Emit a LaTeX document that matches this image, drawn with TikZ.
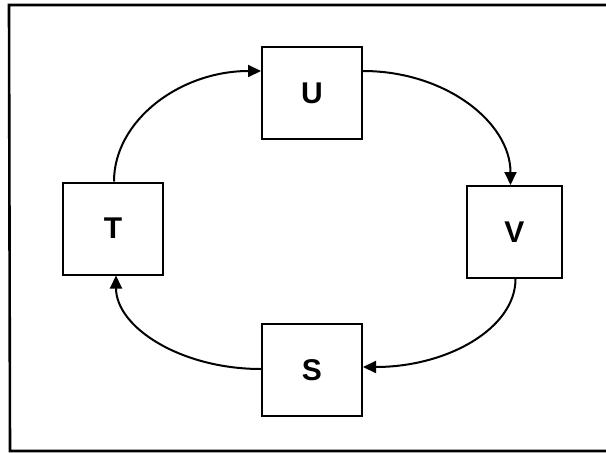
\documentclass[tikz,border=0pt]{standalone}
\usepackage{fontspec}
\setmainfont{Liberation Sans}
\usetikzlibrary{arrows.meta,calc}
\begin{document}
\begin{tikzpicture}[x=1pt,y=1pt,
  blockbox/.style={draw,line width=2pt,minimum height=92pt,inner sep=0pt,font=\fontsize{30}{30}\selectfont\bfseries},
  link/.style={line width=2pt,-{Triangle[length=13pt,width=12pt]}}]
\useasboundingbox (0,0) rectangle (606,-453);
\coordinate (ftl) at (9,-5);
\coordinate (ftr) at (606,-5);
\coordinate (fbl) at (10,-451);
\coordinate (fbr) at (606,-451);
\draw[line width=2.6pt] (ftr) -- (ftl) -- (fbl) -- (fbr);
\node[blockbox,minimum width=100pt] (U) at (312,-93) {U};
\node[blockbox,minimum width=95pt] (V) at (514.5,-232) {V};
\node[blockbox,minimum width=100pt] (S) at (312,-370) {S};
\node[blockbox,minimum width=100pt] (T) at (113,-228.5) {T};
\coordinate (Uin) at ($(U.west)+(0,22)$);
\coordinate (Uout) at ($(U.east)+(0,22)$);
\coordinate (Vin) at ($(V.north)+(-4,0)$);
\coordinate (Vout) at ($(V.south)+(1,0)$);
\coordinate (Sin) at ($(S.east)+(0,3)$);
\coordinate (Sout) at ($(S.west)+(0,1)$);
\coordinate (Tin) at ($(T.south)+(3,0)$);
\coordinate (Tout) at ($(T.north)+(1,0)$);
\draw[link] (Tout) .. controls ($(Tout)+(0,61)$) and ($(Uin)+(-81,0)$) .. (Uin);
\draw[link] (Uout) .. controls ($(Uout)+(82,0)$) and ($(Vin)+(0,63)$) .. (Vin);
\draw[link] (Vout) .. controls ($(Vout)+(0,-49)$) and ($(Sin)+(85,0)$) .. (Sin);
\draw[link] (Sout) .. controls ($(Sout)+(-80,0)$) and ($(Tin)+(0,-52)$) .. (Tin);
\end{tikzpicture}
\end{document}
